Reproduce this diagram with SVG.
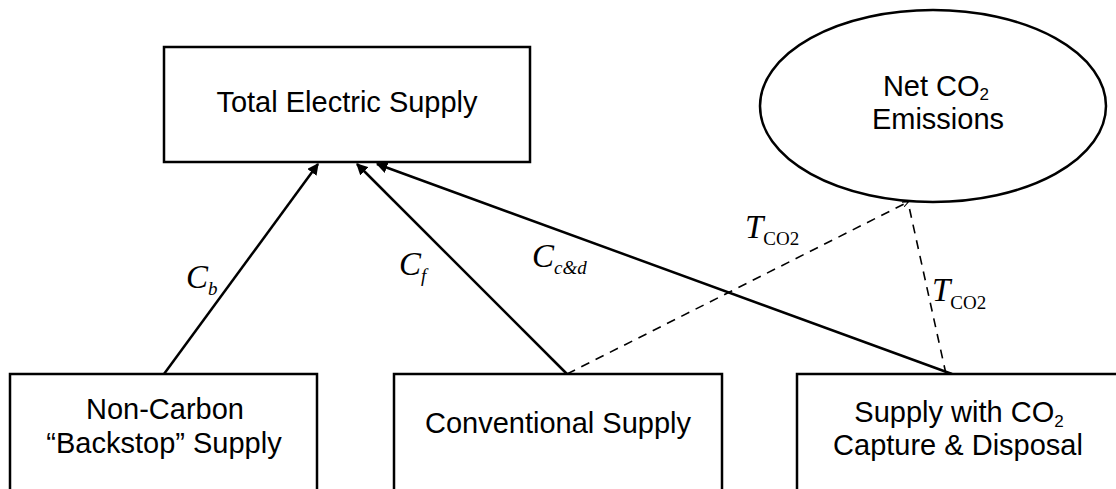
<svg xmlns="http://www.w3.org/2000/svg" width="1116" height="489" viewBox="0 0 1116 489">
<style>
.box{fill:#fff;stroke:#000;stroke-width:2.5}
.lbl{font-family:"Liberation Sans",Arial,sans-serif;font-size:29px;fill:#000;text-anchor:middle}
.sub{font-size:17px}
.edge{fill:none;stroke:#000;stroke-width:2.5}
.dash{fill:none;stroke:#000;stroke-width:1.6;stroke-dasharray:9 7}
.math{font-family:"Liberation Serif","Times New Roman",serif;font-style:italic;font-size:33px;fill:#000}
.msub{font-size:19px}
.msubr{font-style:normal;font-size:19px}
</style>
<defs>
<marker id="arr" viewBox="0 0 10 10" refX="9" refY="5" markerWidth="4.6" markerHeight="4.6" orient="auto" markerUnits="strokeWidth">
<path d="M0,0 L10,5 L0,10 z" fill="#000"/>
</marker>
<marker id="arrs" viewBox="0 0 10 10" refX="9" refY="5" markerWidth="4" markerHeight="4" orient="auto" markerUnits="strokeWidth">
<path d="M0,1 L10,5 L0,9" fill="none" stroke="#000" stroke-width="1.5"/>
</marker>
</defs>
<rect width="1116" height="489" fill="#fff"/>
<g id="connectors">
<line class="edge" x1="164" y1="374" x2="318" y2="164" marker-end="url(#arr)"/>
<line class="edge" x1="567" y1="374" x2="357" y2="164" marker-end="url(#arr)"/>
<line class="edge" x1="952" y1="374" x2="377" y2="164" marker-end="url(#arr)"/>
<path class="dash" d="M567,374 L908,202" marker-end="url(#arrs)"/>
<path class="dash" d="M946,374 L908,202"/>
<text class="math" x="186" y="288">C<tspan class="msub" dy="7">b</tspan></text>
<text class="math" x="399" y="275">C<tspan class="msub" dy="7">f</tspan></text>
<text class="math" x="532" y="267">C<tspan class="msub" dy="7">c&amp;d</tspan></text>
<text class="math" x="745" y="238">T<tspan class="msubr" dy="7">CO2</tspan></text>
<text class="math" x="932" y="301">T<tspan class="msubr" dy="8">CO2</tspan></text>
</g>
<g id="total">
<rect class="box" x="164" y="47" width="366" height="115"/>
<text class="lbl" x="347" y="112">Total Electric Supply</text>
</g>
<g id="net">
<ellipse class="box" cx="933" cy="106" rx="173" ry="96" stroke-width="2"/>
<text class="lbl" x="936" y="96">Net CO<tspan class="sub" dy="4">2</tspan></text>
<text class="lbl" x="938" y="129">Emissions</text>
</g>
<g id="nonc">
<rect class="box" x="10" y="374" width="307" height="118"/>
<text class="lbl" x="165" y="419">Non-Carbon</text>
<text class="lbl" x="164" y="453">“Backstop” Supply</text>
</g>
<g id="conv">
<rect class="box" x="394" y="374" width="328" height="118"/>
<text class="lbl" x="558" y="433">Conventional Supply</text>
</g>
<g id="capt">
<rect class="box" x="797" y="374" width="330" height="118"/>
<text class="lbl" x="959" y="422">Supply with CO<tspan class="sub" dy="5">2</tspan></text>
<text class="lbl" x="958" y="455">Capture &amp; Disposal</text>
</g>
</svg>
